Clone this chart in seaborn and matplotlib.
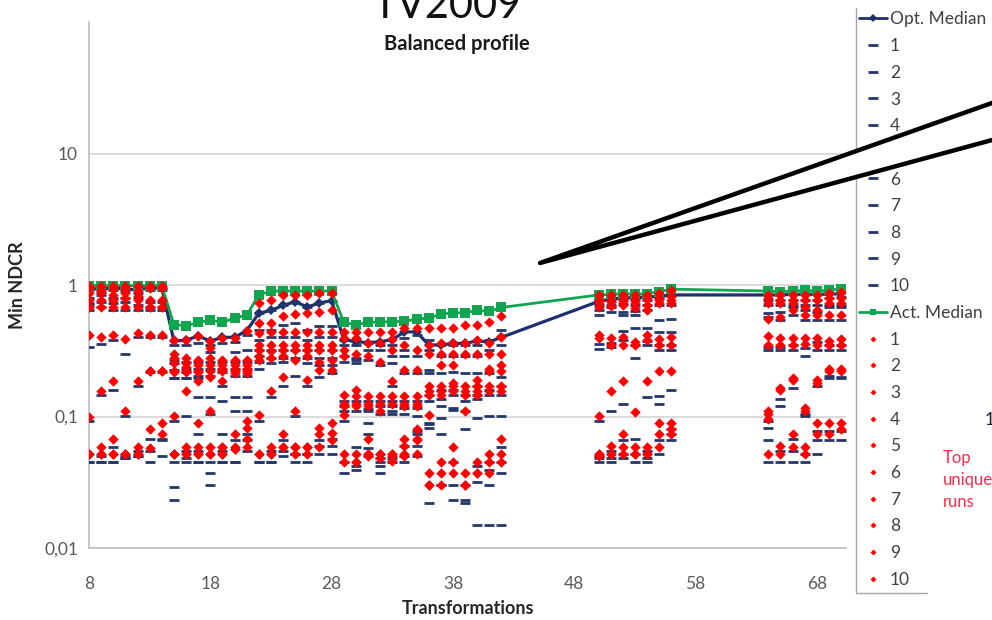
import numpy as np
import pandas as pd
import matplotlib
matplotlib.use("Agg")
import matplotlib.pyplot as plt
from matplotlib.lines import Line2D
from matplotlib.patches import Polygon
import seaborn as sns

# Transformation ids, in seven blocks of seven
transformations = [8, 9, 10, 11, 12, 13, 14,
                   15, 16, 17, 18, 19, 20, 21,
                   22, 23, 24, 25, 26, 27, 28,
                   29, 30, 31, 32, 33, 34, 35,
                   36, 37, 38, 39, 40, 41, 42,
                   50, 51, 52, 53, 54, 55, 56,
                   64, 65, 66, 67, 68, 69, 70]

opt_median = [0.94, 0.93, 0.95, 0.93, 0.92, 0.95, 0.95,
              0.375, 0.38, 0.41, 0.375, 0.40, 0.40, 0.45,
              0.61, 0.64, 0.70, 0.745, 0.68, 0.73, 0.76,
              0.385, 0.37, 0.365, 0.37, 0.385, 0.44, 0.44,
              0.35, 0.35, 0.36, 0.36, 0.375, 0.37, 0.40,
              0.75, 0.78, 0.80, 0.80, 0.81, 0.82, 0.84,
              0.84, 0.84, 0.85, 0.85, 0.85, 0.85, 0.86]

act_median = [0.99, 0.99, 0.99, 0.99, 0.99, 0.99, 0.99,
              0.50, 0.49, 0.52, 0.54, 0.52, 0.56, 0.59,
              0.84, 0.90, 0.90, 0.90, 0.90, 0.90, 0.90,
              0.52, 0.50, 0.52, 0.525, 0.525, 0.53, 0.55,
              0.56, 0.60, 0.615, 0.615, 0.64, 0.63, 0.675,
              0.84, 0.85, 0.86, 0.85, 0.86, 0.89, 0.93,
              0.90, 0.89, 0.90, 0.91, 0.90, 0.91, 0.94]

# Top ten unique runs, actual-decision Min NDCR (one row per transformation)
act_runs_08_14 = [
    [0.98, 0.95, 0.87, 0.77, 0.68, 0.68, 0.415, 0.10, 0.052, 0.052],
    [0.98, 0.915, 0.87, 0.77, 0.68, 0.40, 0.155, 0.059, 0.052, 0.052],
    [0.98, 0.93, 0.84, 0.77, 0.68, 0.415, 0.185, 0.068, 0.052, 0.052],
    [0.98, 0.93, 0.87, 0.80, 0.68, 0.39, 0.11, 0.052, 0.052, 0.052],
    [0.98, 0.90, 0.825, 0.77, 0.68, 0.43, 0.185, 0.059, 0.052, 0.052],
    [0.98, 0.95, 0.77, 0.68, 0.68, 0.415, 0.22, 0.22, 0.081, 0.058],
    [0.98, 0.95, 0.77, 0.68, 0.68, 0.415, 0.22, 0.22, 0.09, 0.074],
]
act_runs_15_21 = [
    [0.38, 0.30, 0.277, 0.254, 0.22, 0.217, 0.101, 0.052, 0.052, 0.052],
    [0.38, 0.277, 0.254, 0.24, 0.22, 0.217, 0.155, 0.059, 0.052, 0.052],
    [0.41, 0.27, 0.245, 0.22, 0.217, 0.185, 0.09, 0.059, 0.052, 0.052],
    [0.375, 0.33, 0.277, 0.245, 0.22, 0.198, 0.111, 0.059, 0.052, 0.052],
    [0.395, 0.27, 0.245, 0.23, 0.22, 0.185, 0.059, 0.059, 0.052, 0.052],
    [0.395, 0.27, 0.245, 0.23, 0.22, 0.213, 0.074, 0.059, 0.057, 0.057],
    [0.445, 0.27, 0.245, 0.23, 0.22, 0.213, 0.093, 0.082, 0.068, 0.059],
]
act_runs_22_28 = [
    [0.73, 0.51, 0.43, 0.35, 0.32, 0.29, 0.268, 0.103, 0.052, 0.052],
    [0.77, 0.51, 0.44, 0.35, 0.314, 0.277, 0.155, 0.059, 0.052, 0.052],
    [0.84, 0.58, 0.44, 0.35, 0.32, 0.29, 0.20, 0.074, 0.059, 0.059],
    [0.84, 0.60, 0.44, 0.35, 0.32, 0.268, 0.111, 0.059, 0.059, 0.052],
    [0.84, 0.61, 0.44, 0.35, 0.32, 0.29, 0.188, 0.059, 0.059, 0.052],
    [0.87, 0.62, 0.44, 0.35, 0.32, 0.26, 0.225, 0.082, 0.074, 0.059],
    [0.87, 0.645, 0.44, 0.35, 0.32, 0.268, 0.225, 0.09, 0.075, 0.066],
]
act_runs_29_35 = [
    [0.44, 0.395, 0.32, 0.29, 0.145, 0.125, 0.121, 0.103, 0.052, 0.045],
    [0.44, 0.395, 0.30, 0.158, 0.142, 0.125, 0.121, 0.052, 0.045, 0.045],
    [0.44, 0.36, 0.29, 0.142, 0.125, 0.121, 0.068, 0.052, 0.052, 0.05],
    [0.44, 0.36, 0.26, 0.142, 0.125, 0.111, 0.052, 0.052, 0.052, 0.048],
    [0.44, 0.39, 0.32, 0.185, 0.142, 0.125, 0.052, 0.052, 0.05, 0.046],
    [0.47, 0.35, 0.225, 0.142, 0.125, 0.121, 0.068, 0.06, 0.052, 0.05],
    [0.47, 0.32, 0.225, 0.142, 0.125, 0.121, 0.081, 0.068, 0.066, 0.052],
]
act_runs_36_42 = [
    [0.47, 0.35, 0.30, 0.17, 0.155, 0.145, 0.103, 0.037, 0.030, 0.030],
    [0.47, 0.36, 0.30, 0.245, 0.17, 0.155, 0.145, 0.045, 0.037, 0.030],
    [0.47, 0.36, 0.30, 0.245, 0.18, 0.17, 0.155, 0.059, 0.045, 0.037],
    [0.50, 0.36, 0.30, 0.17, 0.155, 0.145, 0.111, 0.037, 0.030, 0.030],
    [0.495, 0.38, 0.30, 0.188, 0.17, 0.155, 0.145, 0.045, 0.037, 0.037],
    [0.52, 0.36, 0.30, 0.23, 0.22, 0.17, 0.155, 0.052, 0.045, 0.037],
    [0.58, 0.40, 0.30, 0.245, 0.22, 0.17, 0.155, 0.068, 0.052, 0.045],
]
act_runs_50_56 = [
    [0.84, 0.77, 0.73, 0.68, 0.42, 0.395, 0.101, 0.052, 0.052, 0.05],
    [0.84, 0.77, 0.74, 0.69, 0.395, 0.35, 0.155, 0.06, 0.052, 0.052],
    [0.84, 0.78, 0.755, 0.70, 0.40, 0.35, 0.185, 0.074, 0.059, 0.052],
    [0.84, 0.78, 0.73, 0.67, 0.37, 0.35, 0.109, 0.059, 0.052, 0.052],
    [0.84, 0.78, 0.70, 0.645, 0.42, 0.38, 0.185, 0.059, 0.052, 0.052],
    [0.87, 0.80, 0.77, 0.73, 0.39, 0.35, 0.22, 0.089, 0.074, 0.059],
    [0.915, 0.825, 0.77, 0.73, 0.40, 0.35, 0.22, 0.089, 0.081, 0.074],
]
act_runs_64_70 = [
    [0.84, 0.80, 0.73, 0.55, 0.41, 0.35, 0.111, 0.105, 0.096, 0.052],
    [0.84, 0.77, 0.73, 0.57, 0.395, 0.35, 0.164, 0.158, 0.06, 0.052],
    [0.84, 0.77, 0.73, 0.645, 0.395, 0.35, 0.195, 0.188, 0.074, 0.059],
    [0.84, 0.77, 0.68, 0.59, 0.395, 0.355, 0.117, 0.111, 0.059, 0.052],
    [0.84, 0.77, 0.645, 0.59, 0.395, 0.35, 0.188, 0.18, 0.089, 0.074],
    [0.87, 0.80, 0.73, 0.59, 0.375, 0.35, 0.228, 0.22, 0.089, 0.074],
    [0.885, 0.80, 0.73, 0.59, 0.39, 0.35, 0.228, 0.22, 0.089, 0.081],
]

# Same runs at their optimal thresholds
opt_runs_08_14 = [
    [0.95, 0.915, 0.80, 0.73, 0.70, 0.645, 0.335, 0.093, 0.045, 0.045],
    [0.95, 0.885, 0.84, 0.74, 0.68, 0.355, 0.145, 0.05, 0.045, 0.045],
    [0.95, 0.915, 0.80, 0.73, 0.645, 0.38, 0.158, 0.059, 0.045, 0.045],
    [0.95, 0.90, 0.80, 0.74, 0.645, 0.30, 0.101, 0.05, 0.048, 0.048],
    [0.95, 0.87, 0.80, 0.70, 0.645, 0.40, 0.172, 0.055, 0.05, 0.05],
    [0.93, 0.915, 0.74, 0.68, 0.645, 0.40, 0.217, 0.068, 0.055, 0.045],
    [0.95, 0.915, 0.74, 0.68, 0.645, 0.40, 0.217, 0.067, 0.066, 0.05],
]
opt_runs_15_21 = [
    [0.35, 0.268, 0.254, 0.225, 0.195, 0.195, 0.093, 0.045, 0.029, 0.023],
    [0.35, 0.26, 0.23, 0.217, 0.195, 0.195, 0.101, 0.055, 0.048, 0.045],
    [0.36, 0.26, 0.23, 0.205, 0.195, 0.14, 0.074, 0.055, 0.045, 0.045],
    [0.35, 0.31, 0.26, 0.23, 0.205, 0.14, 0.105, 0.045, 0.037, 0.030],
    [0.36, 0.26, 0.23, 0.217, 0.172, 0.132, 0.074, 0.055, 0.045, 0.045],
    [0.37, 0.31, 0.26, 0.23, 0.205, 0.14, 0.111, 0.066, 0.045, 0.045],
    [0.415, 0.32, 0.26, 0.23, 0.205, 0.14, 0.111, 0.074, 0.066, 0.055],
]
opt_runs_22_28 = [
    [0.61, 0.455, 0.38, 0.32, 0.29, 0.26, 0.23, 0.093, 0.045, 0.045],
    [0.645, 0.455, 0.40, 0.32, 0.277, 0.254, 0.14, 0.055, 0.045, 0.045],
    [0.70, 0.495, 0.40, 0.32, 0.277, 0.26, 0.172, 0.066, 0.055, 0.05],
    [0.74, 0.51, 0.40, 0.32, 0.277, 0.205, 0.101, 0.052, 0.052, 0.045],
    [0.68, 0.455, 0.38, 0.32, 0.277, 0.254, 0.172, 0.052, 0.052, 0.045],
    [0.73, 0.485, 0.40, 0.32, 0.277, 0.245, 0.198, 0.066, 0.06, 0.052],
    [0.755, 0.485, 0.40, 0.32, 0.28, 0.245, 0.213, 0.068, 0.06, 0.052],
]
opt_runs_29_35 = [
    [0.38, 0.35, 0.29, 0.26, 0.132, 0.121, 0.111, 0.093, 0.045, 0.037],
    [0.38, 0.35, 0.277, 0.268, 0.254, 0.132, 0.111, 0.059, 0.042, 0.039],
    [0.36, 0.32, 0.268, 0.132, 0.115, 0.111, 0.089, 0.074, 0.058, 0.05],
    [0.35, 0.32, 0.245, 0.132, 0.121, 0.105, 0.048, 0.045, 0.042, 0.037],
    [0.35, 0.29, 0.254, 0.172, 0.132, 0.121, 0.111, 0.105, 0.048, 0.045],
    [0.395, 0.32, 0.29, 0.213, 0.132, 0.117, 0.105, 0.06, 0.05, 0.045],
    [0.415, 0.29, 0.213, 0.132, 0.117, 0.101, 0.078, 0.074, 0.06, 0.05],
]
opt_runs_36_42 = [
    [0.38, 0.32, 0.225, 0.213, 0.145, 0.132, 0.09, 0.087, 0.082, 0.022],
    [0.35, 0.29, 0.213, 0.158, 0.135, 0.121, 0.098, 0.074, 0.030, 0.030],
    [0.35, 0.29, 0.217, 0.158, 0.145, 0.117, 0.113, 0.045, 0.030, 0.023],
    [0.35, 0.29, 0.213, 0.145, 0.132, 0.111, 0.081, 0.030, 0.023, 0.022],
    [0.35, 0.29, 0.213, 0.17, 0.145, 0.135, 0.098, 0.042, 0.032, 0.015],
    [0.38, 0.32, 0.213, 0.158, 0.145, 0.101, 0.045, 0.039, 0.030, 0.015],
    [0.455, 0.35, 0.198, 0.17, 0.145, 0.101, 0.059, 0.045, 0.037, 0.015],
]
opt_runs_50_56 = [
    [0.77, 0.70, 0.645, 0.59, 0.355, 0.325, 0.093, 0.05, 0.048, 0.045],
    [0.77, 0.70, 0.68, 0.62, 0.36, 0.335, 0.111, 0.055, 0.048, 0.045],
    [0.77, 0.715, 0.62, 0.59, 0.445, 0.38, 0.125, 0.066, 0.052, 0.048],
    [0.77, 0.70, 0.63, 0.59, 0.47, 0.35, 0.28, 0.067, 0.052, 0.045],
    [0.77, 0.70, 0.645, 0.47, 0.375, 0.35, 0.14, 0.055, 0.048, 0.045],
    [0.80, 0.70, 0.54, 0.44, 0.35, 0.32, 0.142, 0.125, 0.066, 0.052],
    [0.825, 0.70, 0.55, 0.44, 0.35, 0.32, 0.158, 0.081, 0.074, 0.066],
]
opt_runs_64_70 = [
    [0.77, 0.70, 0.61, 0.57, 0.335, 0.32, 0.093, 0.082, 0.066, 0.045],
    [0.77, 0.70, 0.62, 0.54, 0.34, 0.32, 0.135, 0.121, 0.055, 0.045],
    [0.77, 0.70, 0.68, 0.59, 0.35, 0.32, 0.164, 0.067, 0.055, 0.045],
    [0.77, 0.70, 0.645, 0.54, 0.33, 0.29, 0.105, 0.101, 0.052, 0.045],
    [0.77, 0.70, 0.62, 0.54, 0.37, 0.32, 0.172, 0.078, 0.066, 0.052],
    [0.80, 0.70, 0.68, 0.54, 0.35, 0.32, 0.205, 0.195, 0.078, 0.066],
    [0.81, 0.70, 0.68, 0.54, 0.35, 0.32, 0.20, 0.195, 0.078, 0.066],
]

y_ticks = [0.01, 0.1, 1, 10]
y_tick_labels = ["0,01", "0,1", "1", "10"]
x_ticks = [8, 18, 28, 38, 48, 58, 68]
run_labels = [str(i) for i in range(1, 11)]

NAVY = "#1f2f6e"
DASH = "#22376b"
GREEN = "#12a550"
RED = "#ff0000"
GRID = "#d9d9d9"
TICK = "#595959"


def to_long(blocks):
    rows = np.vstack([np.asarray(b, dtype=float) for b in blocks])
    recs = []
    for x, row in zip(transformations, rows):
        for run, v in zip(run_labels, row):
            recs.append((x, run, v))
    return pd.DataFrame(recs, columns=["transformation", "run", "ndcr"])


act_df = to_long([act_runs_08_14, act_runs_15_21, act_runs_22_28, act_runs_29_35,
                  act_runs_36_42, act_runs_50_56, act_runs_64_70])
opt_df = to_long([opt_runs_08_14, opt_runs_15_21, opt_runs_22_28, opt_runs_29_35,
                  opt_runs_36_42, opt_runs_50_56, opt_runs_64_70])
med_df = pd.DataFrame({"transformation": transformations,
                       "opt": opt_median, "act": act_median})

sns.set_theme(style="white")
plt.rcParams["font.family"] = ["Lato", "DejaVu Sans"]

fig = plt.figure(figsize=(9.92, 6.2), dpi=100)
ax = fig.add_axes([89 / 992, 1 - 548 / 620, (846 - 89) / 992, (548 - 22) / 620])

sns.lineplot(data=med_df, x="transformation", y="opt", ax=ax, color=NAVY,
             linewidth=2.3, marker="D", markersize=5.5, markeredgecolor=NAVY,
             markeredgewidth=0, sort=False, estimator=None, zorder=3)
sns.scatterplot(data=opt_df, x="transformation", y="ndcr", ax=ax, marker="_",
                s=55, linewidth=2.0, color=DASH, zorder=4, legend=False)
sns.lineplot(data=med_df, x="transformation", y="act", ax=ax, color=GREEN,
             linewidth=2.0, marker="s", markersize=7, markeredgecolor=GREEN,
             markeredgewidth=0, sort=False, estimator=None, zorder=5)
sns.scatterplot(data=act_df, x="transformation", y="ndcr", ax=ax, marker="D",
                s=28, linewidth=0, color=RED, zorder=6, legend=False)

ax.set_yscale("log")
ax.set_ylim(0.01, 100)
ax.set_xlim(8, 70.4)
ax.set_yticks(y_ticks)
ax.set_yticklabels(y_tick_labels)
ax.minorticks_off()
ax.set_xticks(x_ticks)
ax.set_xticklabels([str(t) for t in x_ticks])
ax.tick_params(axis="both", length=0, labelsize=12.5, labelcolor=TICK)
ax.tick_params(axis="x", pad=20)
ax.tick_params(axis="y", pad=8)
ax.grid(axis="y", color=GRID, linewidth=1.3)
ax.grid(axis="x", visible=False)
for side in ["top", "right"]:
    ax.spines[side].set_visible(False)
for side in ["left", "bottom"]:
    ax.spines[side].set_color("#bfbfbf")
    ax.spines[side].set_linewidth(1.2)

ax.set_xlabel("Transformations", fontsize=13, fontweight="bold", color="#262626")
ax.set_ylabel("Min NDCR", fontsize=13, fontweight="bold", color="#262626")
ax.xaxis.set_label_coords(0.5, -0.098)
ax.yaxis.set_label_coords(-0.083, 0.5)

fig.text(457 / 992, 1 - 44 / 620, "Balanced profile", ha="center", va="center",
         fontsize=14.5, fontweight="bold", color="#1a1a1a")
fig.text(447 / 992, 1 - 18 / 620, "TV2009", ha="center", va="baseline",
         fontsize=30, color="#111111")

# Legend: medians followed by the ten runs of each kind
handles = [Line2D([], [], color=NAVY, lw=2, marker="D", ms=4, mew=0, label="Opt. Median")]
handles += [Line2D([], [], ls="none", marker="_", ms=7, mew=2, color=DASH, label=r)
            for r in run_labels]
handles += [Line2D([], [], color=GREEN, lw=2, marker="s", ms=5, mew=0, label="Act. Median")]
handles += [Line2D([], [], ls="none", marker="D", ms=3, mew=0, color=RED, label=r)
            for r in run_labels]
fig.legend(handles=handles, loc="upper left", bbox_to_anchor=(856 / 992, 1 - 8 / 620),
           frameon=False, fontsize=12.5, labelspacing=0.615, handlelength=1.6,
           handletextpad=0.15, borderpad=0.2, borderaxespad=0, labelcolor="#404040")
fig.add_artist(Line2D([856 / 992, 856 / 992], [1 - 8 / 620, 1 - 593 / 620],
                      transform=fig.transFigure, color="#a6a6a6", lw=1.0))
fig.add_artist(Line2D([856 / 992, 927 / 992], [1 - 593 / 620, 1 - 593 / 620],
                      transform=fig.transFigure, color="#a6a6a6", lw=1.0))

# Callout pointer: white wedge with a black outline, running off the right edge
wedge_px = [(540, 263), (1012, 95.9), (1012, 134.6)]
wedge = Polygon([(px / 992, 1 - py / 620) for px, py in wedge_px], closed=True,
                transform=fig.transFigure, facecolor="white", edgecolor="black",
                lw=3.2, joinstyle="round", zorder=20)
fig.add_artist(wedge)

fig.text(985 / 992, 1 - 420 / 620, "1", ha="left", va="center", fontsize=12.5,
         color="#1a1a2e")
fig.text(943 / 992, 1 - 480 / 620, "Top\nunique\nruns", ha="left", va="center",
         fontsize=12, color="#ff2a4a", linespacing=1.45)

fig.savefig("out.png", dpi=100)
